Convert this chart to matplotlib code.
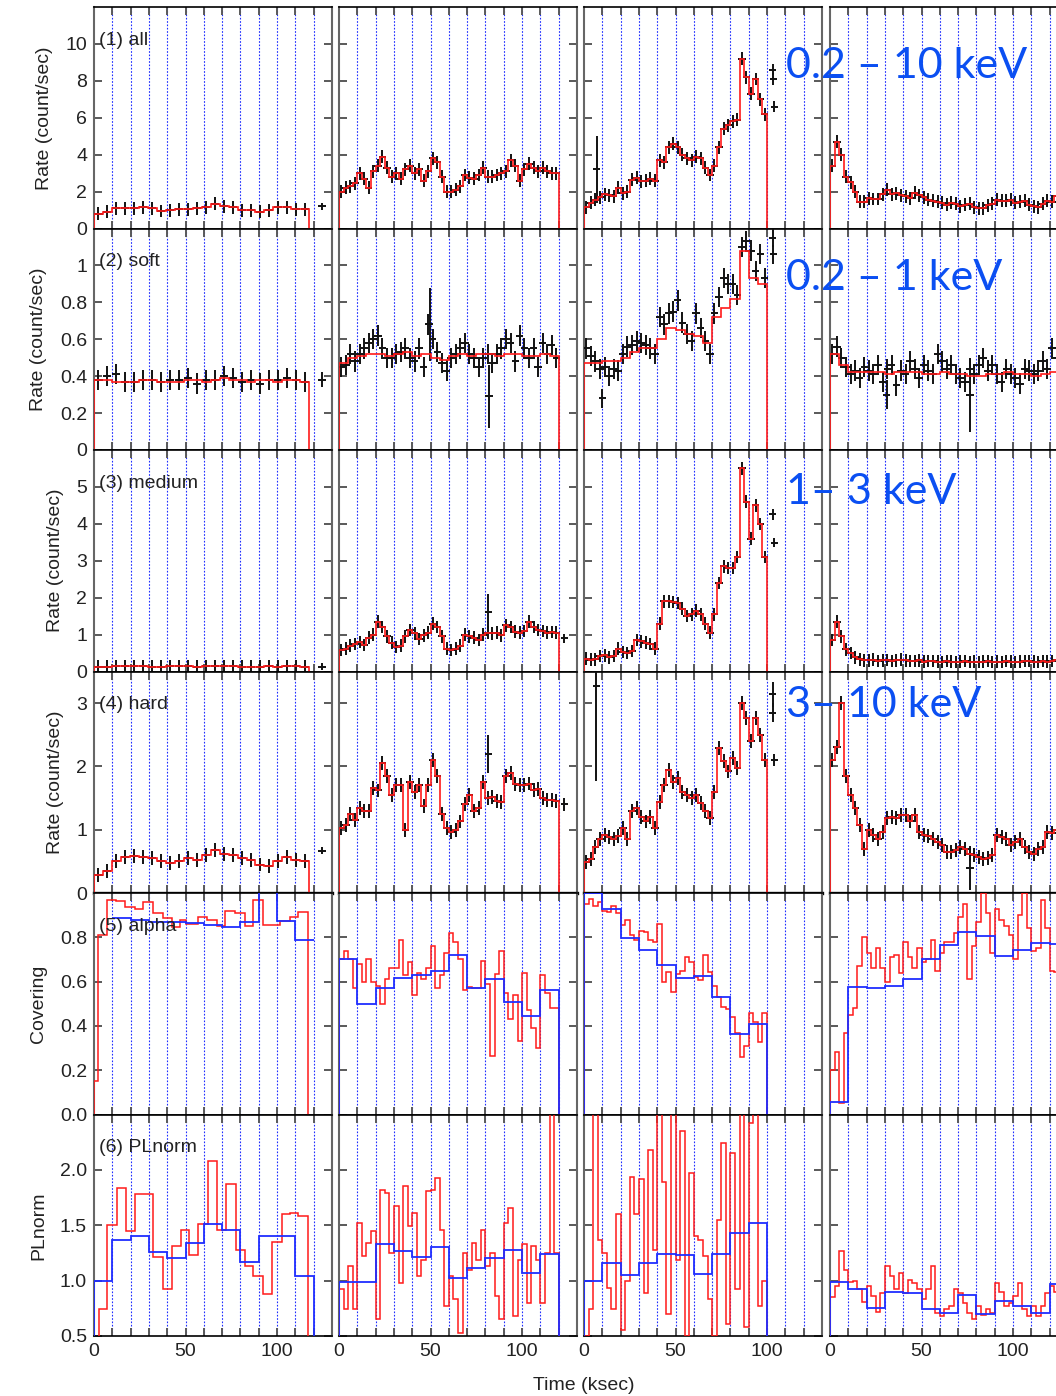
import numpy as np
import matplotlib.pyplot as plt

plt.rcParams['font.family'] = ['Liberation Sans', 'DejaVu Sans']

# ---- time bins (ksec) of the four orbits ----
edges_c1 = np.linspace(0, 117.6, 25)
edges_c2 = np.linspace(0, 120, 49)
edges_c3 = np.linspace(0, 100, 41)
edges_c4 = np.linspace(0, 130, 53)
rate_edges = [edges_c1, edges_c2, edges_c3, edges_c4]

# (1) all, 0.2-10 keV
all_c1 = [0.8, 0.9, 1.1, 1.1, 1.1, 1.15, 1.1, 0.95, 1.0, 1.05, 1.05, 1.1,
          1.15, 1.35, 1.2, 1.15, 1.0, 1.0, 0.9, 1.0, 1.15, 1.15, 1.05, 1.05]
all_c2 = [2.0, 2.2, 2.3, 2.45, 3.0, 2.7, 2.2, 3.1, 3.4, 3.9, 3.3, 2.8,
          3.0, 2.7, 3.2, 3.4, 3.0, 3.2, 2.6, 3.1, 3.8, 3.6, 2.8, 2.0,
          2.0, 2.1, 2.3, 2.9, 2.75, 2.7, 2.9, 3.3, 2.8, 2.8, 2.9, 3.0,
          3.1, 3.7, 3.4, 2.6, 3.2, 3.5, 3.3, 3.1, 3.3, 3.1, 3.0, 3.0]
all_c3 = [1.15, 1.4, 1.55, 1.7, 1.85, 1.8, 1.75, 2.2, 1.9, 2.0, 2.65, 2.75,
          2.55, 2.6, 2.7, 2.6, 3.7, 3.6, 4.4, 4.6, 4.4, 4.0, 3.8, 3.7,
          3.9, 3.8, 3.3, 2.9, 3.4, 4.4, 5.4, 5.6, 5.8, 5.9, 9.2, 8.2,
          7.3, 8.1, 7.0, 6.2]
all_c4 = [3.4, 4.7, 4.0, 2.8, 2.5, 2.0, 1.45, 1.45, 1.65, 1.6, 1.6, 1.85,
          2.1, 1.85, 1.9, 1.8, 1.75, 1.65, 1.95, 1.8, 1.7, 1.55, 1.5, 1.45,
          1.4, 1.3, 1.4, 1.35, 1.2, 1.3, 1.35, 1.15, 1.1, 1.1, 1.25, 1.35,
          1.55, 1.5, 1.5, 1.55, 1.4, 1.45, 1.5, 1.3, 1.2, 1.15, 1.35, 1.5,
          1.45, 1.75, 1.8, 1.8]

# (2) soft, 0.2-1 keV  (data and model)
soft_c1 = [0.38, 0.40, 0.41, 0.37, 0.37, 0.38, 0.38, 0.37, 0.38, 0.38, 0.39, 0.36,
           0.38, 0.38, 0.40, 0.39, 0.37, 0.38, 0.36, 0.38, 0.38, 0.39, 0.38, 0.37]
soft_c2 = [0.45, 0.46, 0.52, 0.48, 0.52, 0.55, 0.58, 0.60, 0.62, 0.55, 0.50, 0.50,
           0.52, 0.53, 0.55, 0.50, 0.48, 0.55, 0.45, 0.68, 0.60, 0.53, 0.47, 0.43,
           0.50, 0.52, 0.55, 0.58, 0.52, 0.50, 0.45, 0.50, 0.52, 0.47, 0.52, 0.55,
           0.60, 0.58, 0.48, 0.62, 0.55, 0.50, 0.55, 0.45, 0.58, 0.52, 0.57, 0.50]
soft_c3 = [0.55, 0.51, 0.48, 0.44, 0.45, 0.40, 0.44, 0.43, 0.52, 0.56, 0.57, 0.59,
           0.58, 0.57, 0.55, 0.52, 0.72, 0.68, 0.74, 0.75, 0.81, 0.69, 0.63, 0.59,
           0.74, 0.66, 0.59, 0.52, 0.74, 0.83, 0.93, 0.90, 0.90, 0.84, 1.10, 1.13,
           1.08, 0.97, 1.06, 0.93]
soft_c4 = [0.52, 0.56, 0.50, 0.45, 0.41, 0.43, 0.39, 0.45, 0.43, 0.41, 0.46, 0.37,
           0.44, 0.46, 0.35, 0.43, 0.41, 0.48, 0.44, 0.39, 0.46, 0.43, 0.41, 0.52,
           0.48, 0.44, 0.46, 0.41, 0.39, 0.37, 0.44, 0.41, 0.46, 0.50, 0.43, 0.46,
           0.41, 0.37, 0.44, 0.41, 0.39, 0.36, 0.44, 0.43, 0.41, 0.43, 0.48, 0.44,
           0.55, 0.50, 0.48, 0.50]
soft_model_c1 = [0.38, 0.38, 0.37, 0.37, 0.37, 0.38, 0.38, 0.37, 0.37, 0.37, 0.38, 0.38,
                 0.37, 0.38, 0.39, 0.38, 0.38, 0.37, 0.38, 0.38, 0.37, 0.38, 0.38, 0.37]
soft_model_c2 = [0.47, 0.50, 0.51, 0.52, 0.52, 0.51, 0.52, 0.53, 0.51, 0.52, 0.50, 0.49,
                 0.51, 0.52, 0.51, 0.52, 0.52, 0.51, 0.52, 0.52, 0.51, 0.51, 0.52, 0.51]
soft_model_c3 = [0.47, 0.47, 0.48, 0.48, 0.50, 0.53, 0.55, 0.55, 0.60, 0.66,
                 0.65, 0.63, 0.62, 0.58, 0.72, 0.77, 0.82, 1.08, 0.93, 0.90]
soft_model_c4 = [0.52, 0.46, 0.42, 0.42, 0.42, 0.42, 0.41, 0.42, 0.42, 0.42, 0.41, 0.41,
                 0.42, 0.41, 0.41, 0.40, 0.40, 0.41, 0.41, 0.42, 0.41, 0.41, 0.40, 0.41,
                 0.42, 0.42]
soft_model_edges = [edges_c1, np.linspace(0, 120, 25), np.linspace(0, 100, 21),
                    np.linspace(0, 130, 27)]

# (3) medium, 1-3 keV
med_c1 = [0.13, 0.13, 0.14, 0.14, 0.14, 0.14, 0.13, 0.13, 0.14, 0.14, 0.14, 0.13,
          0.14, 0.15, 0.14, 0.14, 0.13, 0.13, 0.13, 0.14, 0.13, 0.14, 0.14, 0.13]
med_c2 = [0.58, 0.62, 0.70, 0.75, 0.80, 0.72, 0.92, 1.0, 1.35, 1.2, 0.95, 0.78,
          0.66, 0.70, 0.95, 1.12, 1.03, 0.88, 0.98, 1.05, 1.3, 1.2, 0.95, 0.62,
          0.58, 0.62, 0.70, 1.0, 0.95, 0.92, 0.85, 1.0, 1.05, 1.03, 1.05, 0.98,
          1.25, 1.2, 1.08, 1.05, 1.1, 1.35, 1.2, 1.12, 1.1, 1.05, 1.07, 1.05]
med_c3 = [0.35, 0.32, 0.33, 0.42, 0.44, 0.38, 0.42, 0.62, 0.53, 0.50, 0.55, 0.85,
          0.82, 0.78, 0.75, 0.62, 1.3, 1.9, 1.9, 1.88, 1.85, 1.7, 1.5, 1.55,
          1.65, 1.55, 1.3, 1.05, 1.55, 2.4, 2.85, 2.8, 2.8, 3.1, 5.5, 4.6,
          3.6, 4.5, 4.0, 3.1]
med_c4 = [0.85, 1.35, 0.95, 0.60, 0.50, 0.38, 0.33, 0.30, 0.30, 0.32, 0.28, 0.30,
          0.31, 0.29, 0.30, 0.32, 0.30, 0.28, 0.29, 0.30, 0.27, 0.28, 0.29, 0.27,
          0.26, 0.28, 0.27, 0.26, 0.27, 0.28, 0.26, 0.27, 0.26, 0.27, 0.28, 0.26,
          0.27, 0.26, 0.28, 0.27, 0.26, 0.27, 0.28, 0.29, 0.27, 0.26, 0.28, 0.27,
          0.29, 0.30, 0.31, 0.32]

# (4) hard, 3-10 keV
hard_c1 = [0.28, 0.35, 0.50, 0.57, 0.58, 0.57, 0.55, 0.50, 0.48, 0.50, 0.55, 0.52,
           0.60, 0.68, 0.62, 0.60, 0.55, 0.52, 0.45, 0.42, 0.50, 0.57, 0.52, 0.50]
hard_c2 = [1.02, 1.07, 1.25, 1.15, 1.34, 1.29, 1.29, 1.66, 1.62, 2.05, 1.85, 1.55,
           1.71, 1.7, 1.0, 1.76, 1.6, 1.7, 1.38, 1.7, 2.1, 1.85, 1.25, 1.02,
           0.97, 1.0, 1.13, 1.4, 1.55, 1.3, 1.34, 1.76, 1.5, 1.52, 1.45, 1.44,
           1.85, 1.9, 1.72, 1.7, 1.7, 1.73, 1.63, 1.65, 1.5, 1.47, 1.47, 1.45]
hard_c3 = [0.49, 0.54, 0.73, 0.86, 0.92, 0.88, 0.86, 0.9, 1.02, 0.86, 1.29, 1.34,
           1.2, 1.13, 1.2, 1.02, 1.44, 1.71, 1.95, 1.76, 1.81, 1.6, 1.55, 1.5,
           1.55, 1.42, 1.29, 1.18, 1.6, 2.29, 2.08, 1.92, 2.13, 1.97, 3.0, 2.77,
           2.4, 2.77, 2.5, 2.1]
hard_c4 = [2.1, 2.3, 3.0, 1.85, 1.55, 1.34, 1.07, 0.7, 1.0, 0.92, 0.86, 0.97,
           1.18, 1.2, 1.18, 1.23, 1.23, 1.13, 1.23, 0.97, 0.92, 0.9, 0.86, 0.8,
           0.76, 0.65, 0.65, 0.68, 0.73, 0.7, 0.62, 0.6, 0.57, 0.54, 0.55, 0.6,
           0.92, 0.88, 0.85, 0.76, 0.8, 0.85, 0.73, 0.65, 0.62, 0.7, 0.73, 0.97,
           0.95, 1.0, 1.0, 1.0]

# points outside the model / long error bars: (time, rate, error)
extra_all = [[(124.5, 1.2, 0.2)], [],
             [(7.0, 3.2, 1.8), (103.0, 8.6, 0.3), (103.5, 8.1, 0.3), (104.0, 6.6, 0.3)], []]
extra_soft = [[(124.5, 0.38, 0.04)], [(82.0, 0.29, 0.17), (49.5, 0.68, 0.2)],
              [(103.0, 1.15, 0.05), (103.5, 1.06, 0.05), (10.0, 0.28, 0.05)],
              [(76.5, 0.3, 0.2), (31.0, 0.30, 0.08)]]
extra_med = [[(124.5, 0.13, 0.1)], [(81.5, 1.6, 0.5), (123.0, 0.9, 0.12)],
             [(103.0, 4.26, 0.15), (104.0, 3.49, 0.12)], []]
extra_hard = [[(124.5, 0.67, 0.06)], [(81.5, 2.19, 0.3), (123.0, 1.4, 0.1)],
              [(6.8, 3.27, 1.5), (103.0, 3.14, 0.2), (103.0, 2.85, 0.15), (104.0, 2.1, 0.1)],
              [(76.5, 0.4, 0.35)]]

# (5) alpha (covering fraction): fine fit (red) and 10 ks fit (blue)
alpha_edges_c1 = [0, 2.4, 7.3, 12, 17, 22.4, 27, 32, 37.5, 42.4, 47, 50, 57, 61.6,
                  67, 71.6, 77, 82.5, 87, 92.5, 101.6, 107, 111.7, 117]
alpha_c1 = [0.15, 0.81, 0.97, 0.965, 0.935, 0.93, 0.96, 0.91, 0.885, 0.845, 0.88, 0.86,
            0.89, 0.88, 0.85, 0.92, 0.91, 0.85, 0.97, 0.855, 0.875, 0.89, 0.915]
alpha_c2 = [0.70, 0.74, 0.70, 0.57, 0.68, 0.60, 0.70, 0.60, 0.58, 0.50, 0.61, 0.66,
            0.66, 0.79, 0.63, 0.69, 0.54, 0.64, 0.61, 0.66, 0.76, 0.57, 0.63, 0.73,
            0.82, 0.78, 0.70, 0.56, 0.575, 0.57, 0.57, 0.695, 0.59, 0.265, 0.635, 0.74,
            0.55, 0.43, 0.54, 0.33, 0.64, 0.47, 0.39, 0.30, 0.63, 0.55, 0.48, 0.48]
alpha_c3 = [0.95, 0.974, 0.94, 0.96, 0.92, 0.914, 0.94, 0.91, 0.854, 0.876, 0.81, 0.786,
            0.83, 0.824, 0.79, 0.778, 0.86, 0.597, 0.643, 0.555, 0.635, 0.65, 0.71, 0.688,
            0.62, 0.605, 0.718, 0.643, 0.58, 0.53, 0.484, 0.477, 0.44, 0.37, 0.26, 0.31,
            0.46, 0.416, 0.326, 0.46]
alpha_c4 = [0.2, 0.28, 0.05, 0.37, 0.45, 0.48, 0.67, 0.8, 0.73, 0.66, 0.75, 0.66,
            0.6, 0.71, 0.72, 0.64, 0.78, 0.71, 0.66, 0.75, 0.69, 0.70, 0.79, 0.65,
            0.73, 0.78, 0.78, 0.82, 0.89, 0.95, 0.61, 0.76, 0.87, 1.0, 0.91, 0.73,
            0.93, 0.88, 0.85, 0.81, 0.70, 0.90, 1.0, 0.84, 0.74, 0.75, 0.97, 0.84,
            0.65, 0.645, 0.64, 0.64]
alpha10_c1 = [0.885, 0.878, 0.87, 0.867, 0.863, 0.857, 0.845, 0.87, 1.05, 0.875, 0.79]
alpha10_c2 = [0.70, 0.50, 0.57, 0.615, 0.63, 0.65, 0.72, 0.57, 0.61, 0.51, 0.446, 0.564]
alpha10_c3 = [1.0, 0.926, 0.796, 0.744, 0.676, 0.615, 0.624, 0.532, 0.364, 0.407]
alpha10_c4 = [0.057, 0.576, 0.57, 0.58, 0.61, 0.70, 0.766, 0.822, 0.807, 0.716,
              0.742, 0.774, 0.77]

# (6) power-law normalisation
pl_edges_c1 = [0, 2.7, 7.3, 12.4, 17.3, 22.4, 32.4, 37.5, 42.4, 47.5, 52, 57, 62.4,
               67.4, 72, 77.6, 82.5, 87, 92.5, 97, 102.6, 107, 111.7, 117]
pl_c1 = [0.3, 0.74, 1.5, 1.84, 1.45, 1.78, 1.21, 0.92, 1.31, 1.46, 1.23, 1.51,
         2.08, 1.46, 1.87, 1.28, 1.13, 1.04, 0.88, 1.35, 1.60, 1.61, 1.58]
pl_c2 = [0.92, 0.74, 1.13, 0.74, 1.52, 1.22, 1.34, 1.45, 0.65, 1.82, 1.79, 1.25,
         1.67, 0.98, 1.85, 1.49, 1.61, 1.04, 1.19, 1.81, 1.82, 1.93, 1.46, 0.77,
         1.04, 0.83, 0.53, 1.25, 1.10, 1.34, 1.19, 1.46, 1.13, 1.25, 0.86, 0.65,
         1.52, 1.66, 0.68, 1.19, 1.33, 0.80, 1.31, 1.19, 0.80, 1.25, 2.6, 1.25]
pl_c3 = [0.5, 0.74, 2.7, 1.37, 1.25, 0.93, 0.74, 1.6, 0.55, 1.0, 1.94, 1.6,
         1.92, 0.89, 2.18, 1.28, 2.7, 1.89, 0.7, 2.7, 1.19, 2.35, 0.5, 1.97,
         1.4, 1.37, 1.22, 0.83, 0.5, 1.55, 2.24, 0.61, 2.15, 0.92, 2.7, 0.58,
         2.42, 2.7, 0.77, 1.0]
pl_c4 = [0.85, 0.95, 1.27, 1.1, 0.99, 1.0, 0.92, 0.81, 0.95, 0.86, 0.72, 0.89,
         1.13, 1.04, 0.92, 1.07, 0.89, 1.01, 0.98, 0.92, 0.83, 0.92, 1.13, 0.71,
         0.68, 0.74, 0.77, 0.92, 0.89, 0.80, 0.71, 0.65, 0.77, 0.69, 0.74, 0.71,
         0.98, 0.90, 0.77, 0.80, 0.86, 0.98, 0.74, 0.68, 0.77, 0.68, 0.77, 0.89,
         0.95, 0.90, 0.85, 0.90]
pl10_c1 = [1.0, 1.37, 1.40, 1.26, 1.2, 1.34, 1.51, 1.46, 1.17, 1.40, 1.40, 1.04]
pl10_c2 = [0.99, 0.985, 1.33, 1.27, 1.21, 1.30, 1.02, 1.11, 1.20, 1.28, 1.07, 1.24]
pl10_c3 = [1.0, 1.16, 1.05, 1.16, 1.24, 1.23, 1.06, 1.24, 1.43, 1.52]
pl10_c4 = [0.99, 0.92, 0.75, 0.90, 0.89, 0.74, 0.71, 0.87, 0.70, 0.82, 0.77, 0.71, 0.97]

edges10 = [np.linspace(0, 120, 13), np.linspace(0, 120, 13),
           np.linspace(0, 100, 11), np.linspace(0, 130, 14)]
alpha10_edges_c1 = np.linspace(10, 120, 12)

row_names = ['(1) all', '(2) soft', '(3) medium', '(4) hard', '(5) alpha', '(6) PLnorm']
row_ylabels = ['Rate (count/sec)'] * 4 + ['Covering', 'PLnorm']
row_ylim = [(0, 12), (0, 1.2), (0, 6), (0, 3.5), (0, 1.0), (0.5, 2.5)]
row_yticks = [[0, 2, 4, 6, 8, 10], [0, 0.2, 0.4, 0.6, 0.8, 1.0], [0, 1, 2, 3, 4, 5],
              [0, 1, 2, 3], [0, 0.2, 0.4, 0.6, 0.8], [0.5, 1.0, 1.5, 2.0]]
row_yticklabels = [['0', '2', '4', '6', '8', '10'], ['0', '0.2', '0.4', '0.6', '0.8', '1'],
                   ['0', '1', '2', '3', '4', '5'], ['0', '1', '2', '3'],
                   ['0.0', '0.2', '0.4', '0.6', '0.8'], ['0.5', '1.0', '1.5', '2.0']]
band_labels = ['0.2 \u2013 10 keV', '0.2 \u2013 1 keV', '1\u2013 3 keV', '3\u2013 10 keV']

rates = [[all_c1, all_c2, all_c3, all_c4],
         [soft_c1, soft_c2, soft_c3, soft_c4],
         [med_c1, med_c2, med_c3, med_c4],
         [hard_c1, hard_c2, hard_c3, hard_c4]]
extras = [extra_all, extra_soft, extra_med, extra_hard]
soft_models = [soft_model_c1, soft_model_c2, soft_model_c3, soft_model_c4]
yerrs = [0.35, 0.055, 0.17, 0.11]

alpha_fine = [alpha_c1, alpha_c2, alpha_c3, alpha_c4]
alpha_fine_edges = [alpha_edges_c1, edges_c2, edges_c3, edges_c4]
alpha_10 = [alpha10_c1, alpha10_c2, alpha10_c3, alpha10_c4]
alpha_10_edges = [alpha10_edges_c1, edges10[1], edges10[2], edges10[3]]
pl_fine = [pl_c1, pl_c2, pl_c3, pl_c4]
pl_fine_edges = [pl_edges_c1, edges_c2, edges_c3, edges_c4]
pl_10 = [pl10_c1, pl10_c2, pl10_c3, pl10_c4]

W, H = 1056, 1396
fig = plt.figure(figsize=(W / 100, H / 100), dpi=100)

col_left = [94, 339, 584, 830]
ax_w, ax_h, top0 = 238, 221.5, 7
RED = '#ff1a1a'
BLUE = '#1f2dff'
TXT = '#222222'
FS = 14

for r in range(6):
    for c in range(4):
        top = top0 + r * ax_h
        ax = fig.add_axes([col_left[c] / W, 1 - (top + ax_h) / H, ax_w / W, ax_h / H])
        ax.set_xlim(0, 130)
        ax.set_ylim(*row_ylim[r])

        for t in range(10, 121, 10):
            ax.axvline(t, color=BLUE, lw=0.8, ls=(0, (1.5, 1.5)), zorder=1)

        if r < 4:
            edges = rate_edges[c]
            vals = np.array(rates[r][c])
            mid = 0.5 * (edges[1:] + edges[:-1])
            xe = 2.2 if c == 0 else 2.0
            ax.errorbar(mid, vals, xerr=xe, yerr=yerrs[r], fmt='none', ecolor='#111111',
                        elinewidth=1.4, zorder=3)
            ex = extras[r][c]
            if ex:
                ax.errorbar([e[0] for e in ex], [e[1] for e in ex], xerr=2.0,
                            yerr=[e[2] for e in ex], fmt='none', ecolor='#111111',
                            elinewidth=1.4, zorder=3)
            if r == 1:
                ax.stairs(soft_models[c], soft_model_edges[c], baseline=0, color=RED,
                          lw=1.2, zorder=4)
            else:
                ax.stairs(vals, edges, baseline=0, color=RED, lw=1.2, zorder=4)
        elif r == 4:
            ax.stairs(alpha_fine[c], alpha_fine_edges[c], baseline=0, color=RED,
                      lw=1.1, zorder=3)
            ax.stairs(alpha_10[c], alpha_10_edges[c], baseline=None if c == 0 else 0,
                      color=BLUE, lw=1.3, zorder=4)
        else:
            ax.stairs(pl_fine[c], pl_fine_edges[c], baseline=0, color=RED,
                      lw=1.1, zorder=3)
            ax.stairs(pl_10[c], edges10[c], baseline=0, color=BLUE, lw=1.3, zorder=4)

        ax.set_xticks([0, 50, 100])
        ax.set_xticks(np.arange(0, 131, 10), minor=True)
        ax.set_yticks(row_yticks[r])
        ax.tick_params(which='both', direction='in', top=True, bottom=True,
                       left=True, right=True, color='0.35', width=1.4, length=5.5,
                       labelsize=FS, labelcolor=TXT, pad=5)
        ax.tick_params(which='minor', left=False, right=False)
        for s in ('left', 'right'):
            ax.spines[s].set_color('0.4')
            ax.spines[s].set_linewidth(1.5)
        for s in ('top', 'bottom'):
            ax.spines[s].set_color('black')
            ax.spines[s].set_linewidth(1.2)
        if r == 3:
            ax.spines['bottom'].set_linewidth(2.4)

        if c == 0:
            ax.set_yticklabels(row_yticklabels[r])
            ax.set_ylabel(row_ylabels[r], fontsize=FS, color=TXT, labelpad=9)
            ax.text(0.02, 0.85, row_names[r], transform=ax.transAxes, fontsize=FS,
                    color=TXT, va='center', ha='left', zorder=6)
        else:
            ax.tick_params(labelleft=False)
        if r == 5:
            ax.set_xticklabels(['0', '50', '100'])
        else:
            ax.tick_params(labelbottom=False)

fig.text(584 / W, 1 - 1386 / H, 'Time (ksec)', fontsize=FS, color=TXT,
         ha='center', va='center')

band_y = [66, 278, 492, 705]
for lab, y in zip(band_labels, band_y):
    fig.text(786 / W, 1 - y / H, lab, fontsize=31, color='#0b4ff2',
             family=['Lato', 'DejaVu Sans'], ha='left', va='center', zorder=10)

fig.savefig('out.png', dpi=100)
